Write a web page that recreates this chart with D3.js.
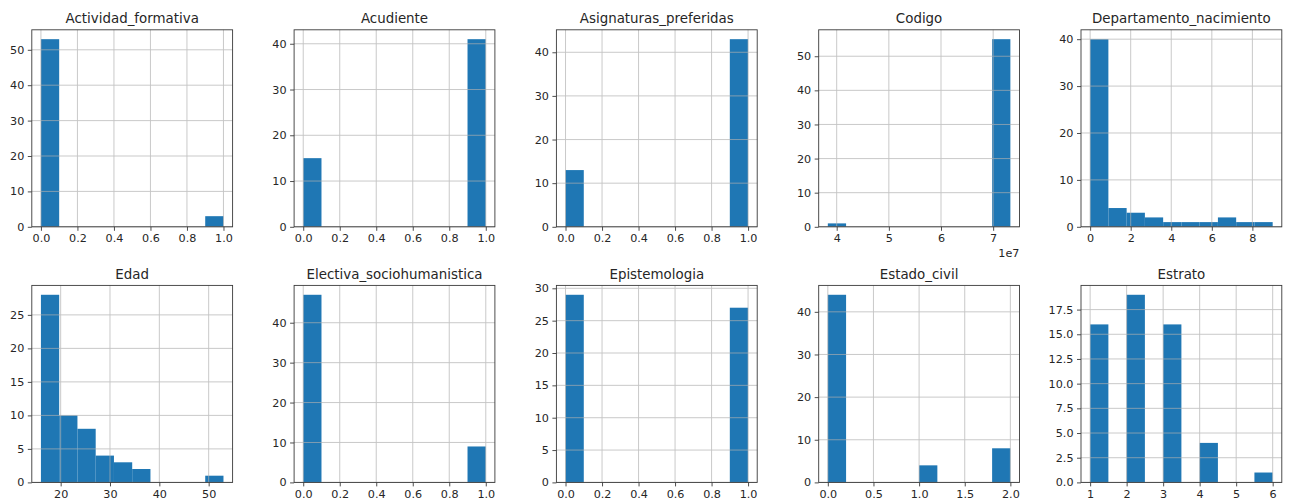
<!DOCTYPE html>
<html>
<head>
<meta charset="utf-8">
<script src="https://cdn.jsdelivr.net/npm/d3@7"></script>
<style>
  html, body { margin: 0; padding: 0; background: #ffffff; }
  svg { display: block; }
  text { font-family: "DejaVu Sans", sans-serif; fill: #262626; }
</style>
</head>
<body>
<svg id="chart" width="1293" height="502"></svg>
<script>
// Histogram grid: one panel per column, ten equal-width bins each
const titles = [
  "Actividad_formativa", "Acudiente", "Asignaturas_preferidas", "Codigo", "Departamento_nacimiento",
  "Edad", "Electiva_sociohumanistica", "Epistemologia", "Estado_civil", "Estrato"
];
const rangeMin = [0, 0, 0, 3.83e7, 0, 16, 0, 0, 0, 1];
const rangeMax = [1, 1, 1, 7.33e7, 9, 53, 1, 1, 2, 6];
const binCounts = [
  [53, 0, 0, 0, 0, 0, 0, 0, 0, 3],
  [15, 0, 0, 0, 0, 0, 0, 0, 0, 41],
  [13, 0, 0, 0, 0, 0, 0, 0, 0, 43],
  [1, 0, 0, 0, 0, 0, 0, 0, 0, 55],
  [40, 4, 3, 2, 1, 1, 1, 2, 1, 1],
  [28, 10, 8, 4, 3, 2, 0, 0, 0, 1],
  [47, 0, 0, 0, 0, 0, 0, 0, 0, 9],
  [29, 0, 0, 0, 0, 0, 0, 0, 0, 27],
  [44, 0, 0, 0, 0, 4, 0, 0, 0, 8],
  [16, 0, 19, 0, 16, 0, 4, 0, 0, 1]
];
const unitTicks = [0, 0.2, 0.4, 0.6, 0.8, 1.0];
const unitLabels = ["0.0", "0.2", "0.4", "0.6", "0.8", "1.0"];
const xTickValues = [
  unitTicks, unitTicks, unitTicks,
  [4e7, 5e7, 6e7, 7e7],
  [0, 2, 4, 6, 8],
  [20, 30, 40, 50],
  unitTicks, unitTicks,
  [0, 0.5, 1.0, 1.5, 2.0],
  [1, 2, 3, 4, 5, 6]
];
const xTickLabels = [
  unitLabels, unitLabels, unitLabels,
  ["4", "5", "6", "7"],
  ["0", "2", "4", "6", "8"],
  ["20", "30", "40", "50"],
  unitLabels, unitLabels,
  ["0.0", "0.5", "1.0", "1.5", "2.0"],
  ["1", "2", "3", "4", "5", "6"]
];
const yTickValues = [
  [0, 10, 20, 30, 40, 50],
  [0, 10, 20, 30, 40],
  [0, 10, 20, 30, 40],
  [0, 10, 20, 30, 40, 50],
  [0, 10, 20, 30, 40],
  [0, 5, 10, 15, 20, 25],
  [0, 10, 20, 30, 40],
  [0, 5, 10, 15, 20, 25, 30],
  [0, 10, 20, 30, 40],
  [0, 2.5, 5, 7.5, 10, 12.5, 15, 17.5]
];
const yTickLabels = [
  null, null, null, null, null, null, null, null, null,
  ["0.0", "2.5", "5.0", "7.5", "10.0", "12.5", "15.0", "17.5"]
];
const offsetLabels = [null, null, null, "1e7", null, null, null, null, null, null];

const BAR = "#1f77b4";
const GRID = "#b0b0b0";
const SPINE = "#3a3a3a";
const TICK_FONT = 11.2;
const TITLE_FONT = 13.4;

const nCols = 5;
const colLeft = 31.8, colStep = 262.3, panelW = 200.8;
const rowTop = [29.8, 285.4], panelH = 197;

const svg = d3.select("#chart");

titles.forEach((title, i) => {
  const col = i % nCols, row = Math.floor(i / nCols);
  const x0 = colLeft + col * colStep, y0 = rowTop[row];
  const g = svg.append("g").attr("transform", `translate(${x0},${y0})`);

  const lo = rangeMin[i], hi = rangeMax[i], span = hi - lo;
  const counts = binCounts[i];
  const nb = counts.length, bw = span / nb;

  const x = d3.scaleLinear().domain([lo - 0.05 * span, hi + 0.05 * span]).range([0, panelW]);
  const y = d3.scaleLinear().domain([0, d3.max(counts) * 1.05]).range([panelH, 0]);

  const bins = counts.map((c, k) => ({ x0: lo + k * bw, x1: lo + (k + 1) * bw, c }));

  // bars
  g.append("g").selectAll("rect").data(bins).join("rect")
    .attr("x", d => x(d.x0))
    .attr("width", d => x(d.x1) - x(d.x0))
    .attr("y", d => y(d.c))
    .attr("height", d => y(0) - y(d.c))
    .attr("fill", BAR);

  // grid lines sit above the bars
  const grid = g.append("g").attr("stroke", GRID).attr("stroke-width", 0.9).attr("opacity", 0.75);
  grid.selectAll("line.gx").data(xTickValues[i]).join("line")
    .attr("x1", d => x(d)).attr("x2", d => x(d))
    .attr("y1", 0).attr("y2", panelH);
  grid.selectAll("line.gy").data(yTickValues[i]).join("line")
    .attr("x1", 0).attr("x2", panelW)
    .attr("y1", d => y(d)).attr("y2", d => y(d));

  // axes
  const xl = xTickLabels[i];
  const xAxis = d3.axisBottom(x).tickValues(xTickValues[i])
    .tickFormat((d, k) => xl[k]).tickSizeInner(4).tickSizeOuter(0).tickPadding(3.5);
  const yl = yTickLabels[i];
  const yAxis = d3.axisLeft(y).tickValues(yTickValues[i])
    .tickFormat((d, k) => yl ? yl[k] : d3.format("d")(d)).tickSizeInner(4).tickSizeOuter(0).tickPadding(3.5);

  const gx = g.append("g").attr("transform", `translate(0,${panelH})`).call(xAxis);
  const gy = g.append("g").call(yAxis);
  [gx, gy].forEach(a => {
    a.select(".domain").remove();
    a.selectAll(".tick line").attr("stroke", SPINE).attr("stroke-width", 0.9);
    a.selectAll(".tick text").attr("font-size", TICK_FONT)
      .attr("font-family", "DejaVu Sans, sans-serif").attr("fill", "#262626");
  });

  // frame
  g.append("rect").attr("x", 0).attr("y", 0).attr("width", panelW).attr("height", panelH)
    .attr("fill", "none").attr("stroke", SPINE).attr("stroke-width", 0.9);

  // title
  g.append("text").attr("x", panelW / 2).attr("y", -6.8)
    .attr("text-anchor", "middle").attr("font-size", TITLE_FONT).text(title);

  // scale offset text under the x axis
  if (offsetLabels[i]) {
    g.append("text").attr("x", panelW).attr("y", panelH + 30)
      .attr("text-anchor", "end").attr("font-size", TICK_FONT).text(offsetLabels[i]);
  }
});
</script>
</body>
</html>
